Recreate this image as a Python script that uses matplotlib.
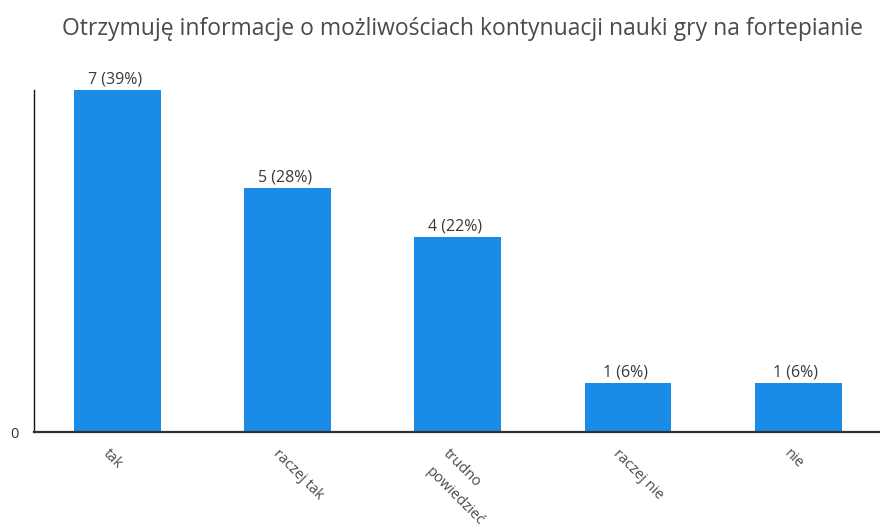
import matplotlib
matplotlib.use("Agg")
import matplotlib.pyplot as plt
from matplotlib.transforms import ScaledTranslation

plt.rcParams['font.family'] = ['Open Sans', 'DejaVu Sans']

title = "Otrzymuję informacje o możliwościach kontynuacji nauki gry na fortepianie"
categories = ["tak", "raczej tak", "trudno\npowiedzieć", "raczej nie", "nie"]
counts = [7, 5, 4, 1, 1]
percents = [39, 28, 22, 6, 6]

fig = plt.figure(figsize=(8.8, 5.29), dpi=100)
ax = fig.add_axes([34/880, 97/529, 1 - 34/880, (432-90)/529])

x = list(range(len(categories)))
bars = ax.bar(x, counts, width=0.51, color='#1a8be6', zorder=2)
ax.set_xlim(-0.49, 4.48)
ax.set_ylim(0, 7)

for xi, c, p in zip(x, counts, percents):
    ax.annotate(f"{c} ({p}%)", (xi, c), xytext=(-2, 4.5), textcoords='offset points',
                ha='center', va='baseline', fontsize=11.5, color='#3a3a3a')

ax.set_yticks([0])
ax.set_yticklabels(['0'], fontsize=10.5, color='#333333')
ax.tick_params(axis='y', length=0, pad=11)

ax.set_xticks(x)
ax.set_xticklabels(categories, rotation=-45, ha='left', va='top',
                   rotation_mode='anchor', fontsize=10.5, color='#4a4a4a',
                   multialignment='left', linespacing=1.9)
ax.tick_params(axis='x', length=0, pad=10.5)
off = ScaledTranslation(-7/100, 0, fig.dpi_scale_trans)
for lab in ax.get_xticklabels():
    lab.set_transform(lab.get_transform() + off)

for s in ['top', 'right']:
    ax.spines[s].set_visible(False)
ax.spines['left'].set_color('#111111')
ax.spines['left'].set_linewidth(1.0)
ax.spines['bottom'].set_color('#333333')
ax.spines['bottom'].set_linewidth(1.6)

fig.text(462/880, 1 - 35/529, title, ha='center', va='baseline',
         fontsize=16.5, color='#4a4a4a')

fig.savefig('out.png', dpi=100, facecolor='white')
